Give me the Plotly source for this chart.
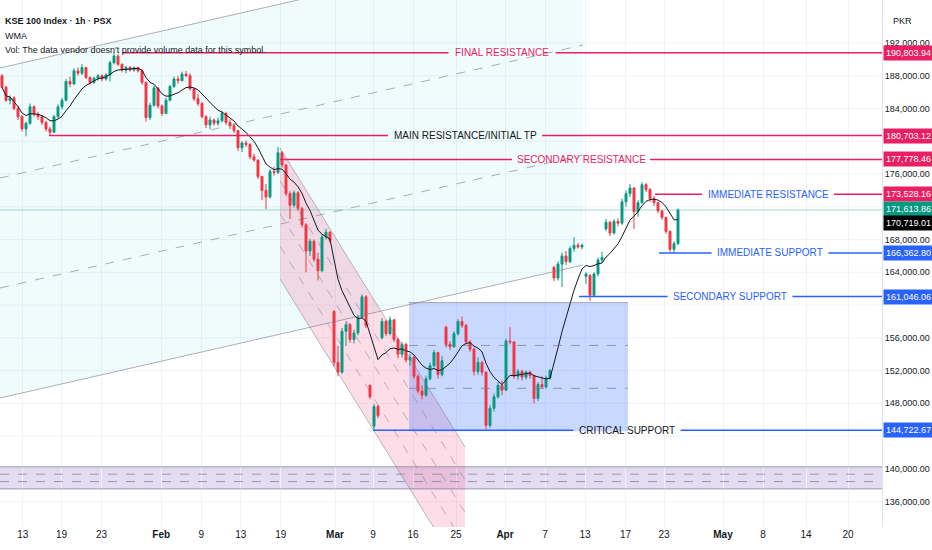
import numpy as np
import plotly.graph_objects as go

# KSE 100, 1h chart; each bar below stands for roughly three hourly candles
# (open, high, low, close) in thousands of PKR
jan_bars = [
    (188.0, 188.2, 186.5, 186.6), (186.6, 186.8, 184.8, 185.0), (185.0, 185.6, 184.5, 185.3),
    (185.3, 185.5, 183.8, 184.0), (184.0, 184.3, 182.6, 183.0), (183.0, 183.2, 181.2, 181.5),
    (181.5, 182.4, 180.6, 182.2), (182.2, 184.6, 182.0, 184.2), (184.2, 184.4, 183.0, 183.3),
    (183.3, 183.6, 182.6, 183.0), (183.0, 183.2, 182.0, 182.3), (182.3, 182.5, 181.2, 181.5),
    (181.5, 181.8, 180.7, 181.1), (181.1, 183.2, 181.0, 183.0), (183.0, 184.5, 182.8, 184.2),
    (184.2, 185.3, 183.9, 185.0), (185.0, 187.6, 184.9, 187.3), (187.3, 187.9, 186.6, 187.0),
    (187.0, 188.9, 186.9, 188.6), (188.6, 189.0, 188.0, 188.3), (188.3, 189.4, 188.1, 189.0),
    (189.0, 189.1, 187.6, 187.8), (187.8, 187.9, 186.9, 187.2), (187.2, 187.9, 187.0, 187.7),
    (187.7, 188.2, 187.4, 188.0), (188.0, 188.2, 187.3, 187.6), (187.6, 188.3, 187.4, 188.1),
    (188.1, 189.8, 187.3, 189.6), (189.6, 190.8, 189.4, 190.4), (190.4, 190.6, 189.2, 189.4),
    (189.4, 189.5, 188.4, 188.7), (188.7, 189.2, 188.3, 189.0), (189.0, 189.2, 188.5, 188.7),
    (188.7, 189.1, 188.5, 189.0), (189.0, 189.1, 188.4, 188.6), (188.6, 188.8, 186.9, 187.2),
    (187.2, 187.3, 182.4, 182.9), (182.9, 184.7, 182.6, 184.4), (184.4, 186.8, 184.2, 186.5),
    (186.5, 186.6, 184.0, 184.3),
]
feb_bars = [
    (184.3, 184.5, 183.1, 183.4), (183.4, 185.3, 183.3, 185.0), (185.0, 186.9, 184.9, 186.7),
    (186.7, 187.9, 186.5, 187.6), (187.6, 188.0, 187.0, 187.4), (187.4, 188.5, 187.3, 188.2),
    (188.2, 188.6, 187.8, 188.0), (188.0, 188.3, 186.2, 186.4), (186.4, 186.5, 184.9, 185.2),
    (185.2, 185.8, 184.3, 184.6), (184.6, 184.8, 182.8, 183.0), (183.0, 183.2, 181.6, 182.0),
    (182.0, 183.0, 181.5, 182.6), (182.6, 182.8, 181.9, 182.2), (182.2, 182.9, 181.9, 182.5),
    (182.5, 183.7, 182.3, 183.4), (183.4, 183.6, 182.0, 182.3), (182.3, 182.7, 181.5, 181.9),
    (181.9, 182.2, 181.0, 181.3), (181.3, 181.4, 178.8, 179.2), (179.2, 180.0, 178.7, 179.8),
    (179.8, 180.1, 179.3, 179.6), (179.6, 179.8, 177.8, 178.1), (178.1, 178.5, 177.5, 177.7),
    (177.7, 177.8, 175.4, 175.7), (175.7, 175.8, 172.8, 174.0), (174.0, 174.8, 171.7, 173.2),
    (173.2, 176.6, 173.0, 176.3), (176.3, 176.9, 175.8, 176.2), (176.2, 179.3, 176.0, 178.6),
    (178.6, 178.8, 176.8, 177.1), (177.1, 177.2, 173.3, 173.6), (173.6, 173.9, 170.5, 172.2),
    (172.2, 174.0, 171.9, 173.7), (173.7, 173.9, 171.5, 171.8), (171.8, 172.0, 169.5, 169.8),
    (169.8, 170.0, 164.0, 166.6), (166.6, 168.1, 166.0, 167.8), (167.8, 168.0, 165.3, 165.6),
    (165.6, 166.4, 163.0, 164.2), (164.2, 168.6, 164.0, 168.3), (168.3, 169.3, 168.0, 168.9),
    (168.9, 169.0, 167.6, 167.9),
]
mar_bars = [
    (159.2, 159.4, 152.5, 153.0), (153.0, 155.0, 151.3, 151.8), (151.8, 157.2, 151.6, 156.8),
    (156.8, 158.0, 155.0, 157.6), (157.6, 157.8, 155.4, 155.8), (155.8, 157.0, 155.3, 156.6),
    (156.6, 158.8, 156.3, 158.5), (158.5, 161.3, 158.4, 161.0), (161.0, 161.2, 157.2, 157.5),
    (150.2, 150.3, 148.5, 148.8), (145.2, 147.9, 144.72, 147.6), (147.6, 147.8, 146.2, 146.5),
    (156.0, 158.4, 155.8, 158.0), (158.0, 158.2, 156.2, 156.5), (156.5, 158.6, 156.3, 158.2),
    (158.2, 158.3, 155.5, 155.8), (155.8, 156.0, 153.5, 154.0), (154.0, 155.5, 153.6, 155.2),
    (155.2, 155.4, 153.0, 153.3), (153.3, 154.0, 152.6, 153.6), (153.6, 153.8, 151.0, 151.3),
    (151.3, 151.5, 149.2, 149.5), (149.5, 150.2, 148.5, 149.0), (149.0, 151.4, 148.8, 151.0),
    (151.0, 153.0, 150.8, 152.6), (152.6, 154.5, 152.4, 154.2), (154.2, 154.3, 151.0, 151.5),
    (151.5, 153.8, 151.3, 153.2), (157.3, 157.5, 154.8, 155.2), (155.2, 155.6, 154.5, 154.9),
    (154.9, 156.8, 154.8, 156.5), (156.5, 158.3, 156.3, 158.0), (158.0, 158.6, 157.2, 157.5),
    (157.5, 157.7, 155.2, 155.5), (155.5, 155.7, 154.3, 154.6), (154.6, 154.8, 151.4, 151.9),
    (151.9, 153.6, 151.5, 153.0), (153.0, 153.2, 151.4, 151.8), (151.8, 151.9, 144.8, 145.3),
    (145.3, 147.8, 145.0, 147.4), (147.4, 149.2, 147.0, 148.8), (148.8, 150.6, 148.6, 150.2),
    (150.2, 150.8, 149.0, 149.6),
]
apr_bars = [
    (149.6, 155.9, 149.5, 155.6), (155.6, 157.3, 155.2, 155.5), (155.5, 155.6, 151.0, 151.3),
    (151.3, 152.2, 150.9, 151.9), (151.9, 152.1, 150.8, 151.2), (151.2, 152.0, 150.9, 151.8),
    (151.8, 152.0, 151.0, 151.4), (151.4, 151.5, 148.0, 148.6), (148.6, 150.6, 148.3, 150.3),
    (150.3, 151.3, 149.8, 150.0), (150.0, 151.4, 149.8, 151.1), (151.1, 152.2, 150.9, 152.0),
    (164.6, 164.8, 162.9, 163.3), (163.3, 165.3, 163.0, 165.0), (165.0, 166.4, 162.2, 166.0),
    (166.0, 166.6, 164.9, 165.3), (165.3, 167.2, 165.1, 166.9), (166.9, 168.3, 166.5, 167.3),
    (167.3, 167.6, 166.9, 167.1), (167.1, 167.5, 166.8, 167.3), (163.5, 164.0, 162.6, 163.8),
    (163.6, 163.8, 160.5, 161.2), (161.2, 164.0, 161.0, 163.8), (163.8, 165.8, 163.5, 165.5),
    (165.5, 166.5, 165.2, 165.8), (169.3, 170.5, 169.0, 170.1), (170.1, 170.3, 168.4, 168.8),
    (168.8, 170.5, 168.6, 170.2), (170.2, 170.6, 169.6, 170.0), (170.0, 173.0, 169.8, 172.6),
    (172.6, 174.0, 172.0, 173.6), (173.6, 174.8, 173.2, 174.3), (174.3, 174.4, 169.3, 171.4),
    (171.4, 172.8, 170.8, 172.5), (172.5, 175.0, 172.4, 174.7), (174.7, 174.9, 173.8, 174.1),
    (174.1, 174.3, 172.6, 173.0), (173.0, 173.3, 172.1, 172.5), (172.5, 172.6, 171.2, 171.5),
    (171.5, 171.6, 170.4, 170.7), (170.7, 170.8, 168.7, 169.0), (169.0, 169.1, 166.5, 166.8),
    (166.8, 167.8, 166.36, 167.5), (167.5, 171.8, 167.3, 171.61),
]

tick_pos = [5.2, 14.9, 24.9, 39.8, 49.8, 59.7, 69.7, 83.25, 92.75, 102.75, 113.5,
            125.75, 135.75, 145.75, 155.9, 165.5, 180.25, 190.25, 201, 211.5]
tick_text = ['13', '19', '23', '<b>Feb</b>', '9', '13', '19', '<b>Mar</b>', '9', '16', '25',
             '<b>Apr</b>', '7', '13', '17', '23', '<b>May</b>', '8', '14', '20']
# price scale labels (the ones hidden behind tags on the reference are left out)
price_ticks = [136000, 140000, 148000, 152000, 156000, 164000, 168000, 176000, 184000, 188000, 192000]
grid_ticks = list(range(136000, 196000, 4000))

# support / resistance rays
level_price = [190803.94, 180703.12, 177778.46, 173528.16, 166362.80, 161046.06, 144722.67]
level_name = ['FINAL RESISTANCE', 'MAIN RESISTANCE/INITIAL TP', 'SECONDARY RESISTANCE',
              'IMMEDIATE RESISTANCE', 'IMMEDIATE SUPPORT', 'SECONDARY SUPPORT', 'CRITICAL SUPPORT']
level_start = [30, 11.75, 69.5, 163.25, 164.25, 144.25, 92.75]
level_text_at = [125, 115.75, 144.75, 191.5, 192, 182, 156.25]
level_gap = [13.4, 19.25, 17.25, 16.5, 14.6, 15.6, 13.4]
level_kind = ['res', 'res', 'res', 'res', 'sup', 'sup', 'sup']
level_text_color = ['#e91e63', '#131722', '#e91e63', '#2962ff', '#2962ff', '#2962ff', '#131722']

last_price = 171613.86
wma_last = 170719.01

# drawings
big_chan_x = [-0.5, 145.25]
big_chan_low = [148650, 164890]
big_chan_width = 40300
fall_chan_x = [69.5, 115.75]
fall_chan_top = [179180, 142670]
fall_chan_width = 16000
box_x = [101.75, 156.5]
box_y = [144600, 160300]
band_y = [137550, 140250]

PINK = '#e91e63'
BLUE = '#2962ff'
GREEN = '#089981'
RED = '#f23645'
FONT = 'Liberation Sans, Arial, sans-serif'
X_END = 220


def wma(values, n):
    out = []
    for i in range(len(values)):
        win = np.array(values[max(0, i - n + 1):i + 1])
        w = np.arange(1, len(win) + 1)
        out.append(float(np.dot(win, w) / w.sum()))
    return out


bars = jan_bars + feb_bars + mar_bars + apr_bars
o, h, l, c = [np.array(v) * 1000 for v in zip(*bars)]
xs = list(range(len(bars)))

fig = go.Figure()

shapes = []
# horizontal grid (kept separate so hidden scale labels still get their line)
for g in grid_ticks:
    shapes.append(dict(type='line', xref='paper', yref='y', layer='below', x0=0, x1=1, y0=g, y1=g,
                       line=dict(color='#f0f3fa', width=1)))

# wide rising channel
x0, x1 = big_chan_x
lo0, lo1 = big_chan_low
shapes.append(dict(type='path', xref='x', yref='y', layer='between', line=dict(width=0),
                   fillcolor='rgba(0,188,212,0.06)',
                   path=f'M {x0},{lo0} L {x1},{lo1} L {x1},{lo1 + big_chan_width} L {x0},{lo0 + big_chan_width} Z'))
for k, dash in [(0, 'solid'), (1, 'dash'), (2, 'dash'), (3, 'solid')]:
    off = big_chan_width * k / 3
    shapes.append(dict(type='line', xref='x', yref='y', x0=x0, x1=x1, y0=lo0 + off, y1=lo1 + off,
                       line=dict(color='rgba(120,123,134,0.6)', width=1, dash=dash)))

# falling channel
fx0, fx1 = fall_chan_x
t0, t1 = fall_chan_top
shapes.append(dict(type='path', xref='x', yref='y', layer='between', line=dict(width=0),
                   fillcolor='rgba(242,54,110,0.17)',
                   path=f'M {fx0},{t0} L {fx1},{t1} L {fx1},{t1 - fall_chan_width} L {fx0},{t0 - fall_chan_width} Z'))
for k in range(5):
    off = fall_chan_width * k / 4
    edge = k in (0, 4)
    shapes.append(dict(type='line', xref='x', yref='y', x0=fx0, x1=fx1, y0=t0 - off, y1=t1 - off,
                       line=dict(color='rgba(120,123,134,0.5)', width=1, dash='solid' if edge else 'dash')))

# consolidation box
shapes.append(dict(type='rect', xref='x', yref='y', layer='between', x0=box_x[0], x1=box_x[1],
                   y0=box_y[0], y1=box_y[1], fillcolor='rgba(41,98,255,0.25)', line=dict(width=0)))
shapes.append(dict(type='line', xref='x', yref='y', x0=box_x[0], x1=box_x[1], y0=box_y[1], y1=box_y[1],
                   line=dict(color='rgba(120,123,134,0.6)', width=1)))
for k in (1, 2):
    yy = box_y[0] + (box_y[1] - box_y[0]) * k / 3
    shapes.append(dict(type='line', xref='x', yref='y', x0=box_x[0], x1=box_x[1], y0=yy, y1=yy,
                       line=dict(color='rgba(120,123,134,0.7)', width=1, dash='dash')))

# purple zone
shapes.append(dict(type='rect', xref='paper', yref='y', layer='between', x0=0, x1=1,
                   y0=band_y[0], y1=band_y[1], fillcolor='rgba(149,117,205,0.25)', line=dict(width=0)))
for k in range(4):
    yy = band_y[0] + (band_y[1] - band_y[0]) * k / 3
    shapes.append(dict(type='line', xref='paper', yref='y', x0=0, x1=1, y0=yy, y1=yy,
                       line=dict(color='rgba(120,123,134,0.7)', width=1,
                                 dash='solid' if k in (0, 3) else 'dash')))

# last price line
shapes.append(dict(type='line', xref='paper', yref='y', x0=0, x1=1, y0=last_price, y1=last_price,
                   line=dict(color='rgba(8,153,129,0.35)', width=1)))

annotations = []
for p, name, st, at, gap, kind, tc in zip(level_price, level_name, level_start, level_text_at,
                                          level_gap, level_kind, level_text_color):
    col = PINK if kind == 'res' else BLUE
    for a, b in [(st, at - gap), (at + gap, X_END)]:
        shapes.append(dict(type='line', xref='x', yref='y', x0=a, x1=b, y0=p, y1=p,
                           line=dict(color=col, width=1.5)))
    annotations.append(dict(x=at, y=p, xref='x', yref='y', text=name, showarrow=False,
                            font=dict(family=FONT, size=10, color=tc)))

fig.add_trace(go.Candlestick(
    x=xs, open=o, high=h, low=l, close=c, name='KSE 100',
    increasing=dict(line=dict(color=GREEN, width=1), fillcolor=GREEN),
    decreasing=dict(line=dict(color=RED, width=1), fillcolor=RED),
    whiskerwidth=0))

fig.add_trace(go.Scatter(x=xs, y=wma(list(c), 12), mode='lines', name='WMA',
                         line=dict(color='#131722', width=1)))

# price tags on the right scale
tags = [(p, PINK if k == 'res' else BLUE, 0) for p, k in zip(level_price, level_kind)]
tags += [(last_price, GREEN, 1), (wma_last, '#000000', -6)]
for p, col, shift in tags:
    annotations.append(dict(xref='paper', yref='y', x=1, y=p, xanchor='left', xshift=1, yshift=shift,
                            text=f'{p:,.2f}', showarrow=False, bgcolor=col, borderpad=2,
                            font=dict(family=FONT, size=9, color='white')))

# header
head = [('<b>KSE 100 Index · 1h · PSX</b>', 14), ('WMA', 29),
        ("Vol: The data vendor doesn't provide volume data for this symbol.", 43)]
for txt, py in head:
    annotations.append(dict(xref='paper', yref='paper', x=0, y=1 - py / 527, xanchor='left',
                            xshift=3, text=txt, showarrow=False,
                            font=dict(family=FONT, size=9, color='#131722')))
annotations.append(dict(xref='paper', yref='paper', x=1, y=1 - 14 / 527, xanchor='left', xshift=9,
                        text='PKR', showarrow=False, font=dict(family=FONT, size=9, color='#131722')))

fig.update_layout(
    width=932, height=550,
    margin=dict(l=0, r=50, t=0, b=23),
    plot_bgcolor='white', paper_bgcolor='white',
    showlegend=False, hovermode=False,
    shapes=shapes, annotations=annotations,
    xaxis=dict(range=[-0.5, X_END], rangeslider=dict(visible=False), tickvals=tick_pos,
               ticktext=tick_text, showgrid=True, gridcolor='#f0f3fa', zeroline=False,
               tickfont=dict(family=FONT, size=10, color='#131722'), ticks='', automargin=False),
    yaxis=dict(side='right', range=[132900, 197250], tickvals=price_ticks,
               tickformat=',.2f', showgrid=False, zeroline=False,
               tickfont=dict(family=FONT, size=9, color='#131722'), ticks='', automargin=False,
               showline=True, linecolor='#e0e3eb'),
)

# drop the browser's default page margin so the 932x550 figure fills the window
fig.write_html('out.html', config={'displayModeBar': False},
               post_script="document.body.style.margin='0';")
